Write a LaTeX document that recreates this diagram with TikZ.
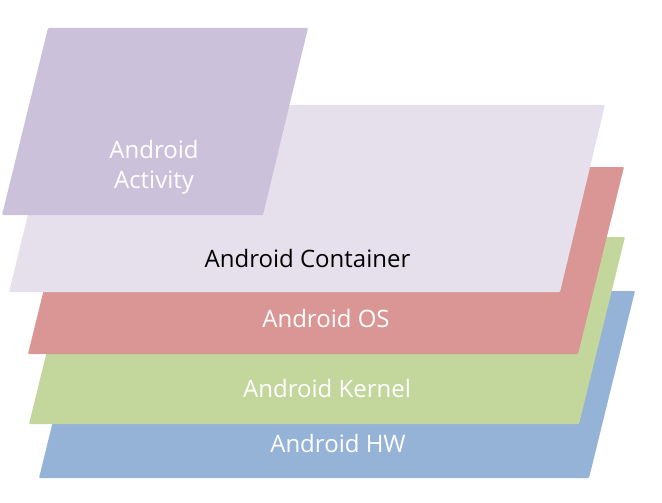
\documentclass[tikz,border=0pt]{standalone}
\usepackage{fontspec}
\setmainfont{Open Sans}
\definecolor{hwc}{HTML}{95B3D7}
\definecolor{kec}{HTML}{C3D69B}
\definecolor{osc}{HTML}{D99694}
\definecolor{coc}{HTML}{E6E0EC}
\definecolor{acc}{HTML}{CCC1DA}
\begin{document}
\begin{tikzpicture}[x=1pt,y=-1pt,
  layer/.style={rounded corners=1pt},
  lbl/.style={anchor=base,inner sep=0pt,font=\fontsize{24}{28}\selectfont,text=white}]
\useasboundingbox (0,0) rectangle (662,503);
% HW
\fill[hwc,layer] (39,478) -- (85,291) -- (635,291) -- (589,478) -- cycle;
% Kernel
\fill[kec,layer] (29,424) -- (75,237) -- (625,237) -- (579,424) -- cycle;
% OS
\fill[osc,layer] (28,354) -- (74,167) -- (624,167) -- (578,354) -- cycle;
% Container
\fill[coc,layer] (9,292) -- (55,105) -- (605,105) -- (560,292) -- cycle;
% Activity
\fill[acc,layer] (2,215) -- (48,28) -- (308,28) -- (263,215) -- cycle;
\node[lbl] (act1) at (154,158) {Android};
\node[lbl] (act2) at (154,188) {Activity};
\node[lbl,text=black] (cont) at (307.5,267) {Android Container};
\node[lbl] (os) at (326,327) {Android OS};
\node[lbl] (ker) at (327,397) {Android Kernel};
\node[lbl] (hw) at (338,452) {Android HW};
\end{tikzpicture}
\end{document}
